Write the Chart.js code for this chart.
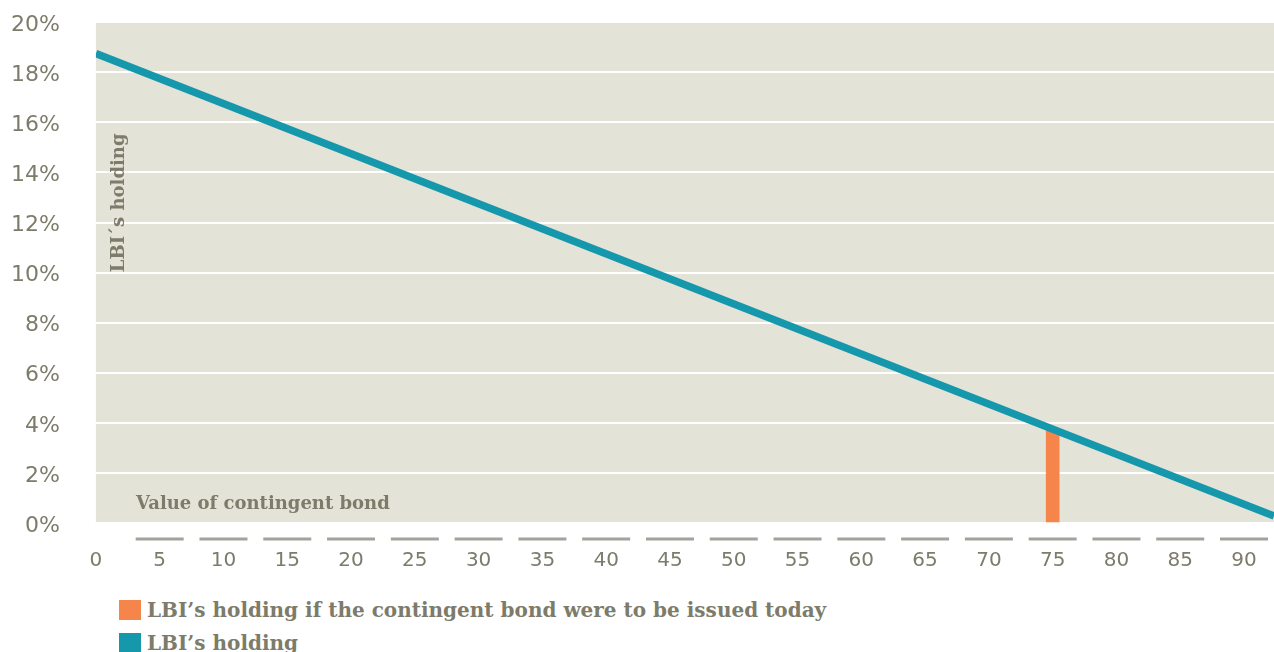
<!DOCTYPE html>
<html>
<head>
<meta charset="utf-8">
<script src="https://cdn.jsdelivr.net/npm/chart.js@4"></script>
<style>
  body { margin: 0; background: #fff; }
  #wrap { position: relative; width: 1274px; height: 575px; }
  #legend { position: absolute; left: 119px; top: 593px; font-family: "DejaVu Serif", serif; font-weight: bold; font-size: 20px; color: #7d7b6a; }
  .item { display: flex; align-items: center; height: 33px; }
  .box { width: 22px; height: 20px; margin-right: 6px; }
</style>
</head>
<body>
<div id="wrap"><canvas id="chart"></canvas></div>
<div id="legend"></div>
<script>
// values
const holdingX = [0, 92.35];          // value of contingent bond
const holdingY = [18.75, 0.28];       // LBI's holding, %
const todayX = [75];
const todayY = [3.75];
const xTickValues = [0, 5, 10, 15, 20, 25, 30, 35, 40, 45, 50, 55, 60, 65, 70, 75, 80, 85, 90];
const seriesLabels = [
  "LBI\u2019s holding if the contingent bond were to be issued today",
  "LBI\u2019s holding"
];
const xTitle = "Value of contingent bond";
const yTitle = "LBI\u00b4s holding";

const TEAL = "#1597ac";
const ORANGE = "#f5854a";
const TEXT = "#7d7b6a";

// chart area background
const bgPlugin = {
  id: "bg",
  beforeDraw(chart) {
    const { ctx, chartArea: a } = chart;
    ctx.save();
    ctx.fillStyle = "#e4e3d8";
    ctx.fillRect(a.left, a.top, a.right - a.left, a.bottom - a.top);
    ctx.restore();
  }
};

// grey dashes under the axis + axis titles inside the plot
const extrasPlugin = {
  id: "extras",
  afterDraw(chart) {
    const { ctx, chartArea: a, scales } = chart;
    ctx.save();
    ctx.strokeStyle = "#a3a29b";
    ctx.lineWidth = 3;
    scales.x.ticks.forEach(t => {
      if (t.value === 0) return;
      const px = scales.x.getPixelForValue(t.value);
      ctx.beginPath();
      ctx.moveTo(px - 24, a.bottom + 16);
      ctx.lineTo(px + 24, a.bottom + 16);
      ctx.stroke();
    });
    ctx.fillStyle = TEXT;
    ctx.font = "bold 18px 'DejaVu Serif'";
    ctx.textBaseline = "alphabetic";
    ctx.fillText(xTitle, a.left + 40, a.bottom - 14);
    ctx.translate(a.left + 28, a.top + 250);
    ctx.rotate(-Math.PI / 2);
    ctx.fillText(yTitle, 0, 0);
    ctx.restore();
  }
};

new Chart(document.getElementById("chart"), {
  type: "bar",
  data: {
    datasets: [
      {
        type: "line",
        label: seriesLabels[1],
        data: holdingX.map((x, i) => ({ x, y: holdingY[i] })),
        borderColor: TEAL,
        backgroundColor: TEAL,
        borderWidth: 7.5,
        pointRadius: 0,
        order: 0
      },
      {
        label: seriesLabels[0],
        data: todayX.map((x, i) => ({ x, y: todayY[i] })),
        backgroundColor: ORANGE,
        barThickness: 13,
        order: 1
      }
    ]
  },
  options: {
    responsive: true,
    maintainAspectRatio: false,
    animation: false,
    layout: { padding: { top: 0, left: 2, right: 0, bottom: 0 } },
    plugins: { legend: { display: false }, tooltip: { enabled: false } },
    scales: {
      x: {
        type: "linear",
        offset: false,
        min: 0,
        max: 92.35,
        afterBuildTicks: s => { s.ticks = xTickValues.map(v => ({ value: v })); },
        ticks: { padding: 2, color: TEXT, maxRotation: 0, autoSkip: false, font: { family: "DejaVu Sans", size: 20 } },
        grid: { drawOnChartArea: false, drawTicks: true, tickLength: 24, tickColor: "rgba(0,0,0,0)", color: "rgba(0,0,0,0)" },
        border: { display: false }
      },
      y: {
        min: 0,
        max: 20,
        ticks: { stepSize: 2, padding: 9, labelOffset: 3, color: TEXT, callback: v => v + "%", font: { family: "DejaVu Sans", size: 22 } },
        grid: { color: "#ffffff", lineWidth: 2, drawTicks: true, tickLength: 27, tickColor: "rgba(0,0,0,0)" },
        border: { display: false }
      }
    }
  },
  plugins: [bgPlugin, extrasPlugin]
});

// legend
const legend = document.getElementById("legend");
[[ORANGE, seriesLabels[0]], [TEAL, seriesLabels[1]]].forEach(([c, t]) => {
  const row = document.createElement("div");
  row.className = "item";
  row.innerHTML = `<span class="box" style="background:${c}"></span><span>${t}</span>`;
  legend.appendChild(row);
});
</script>
</body>
</html>
